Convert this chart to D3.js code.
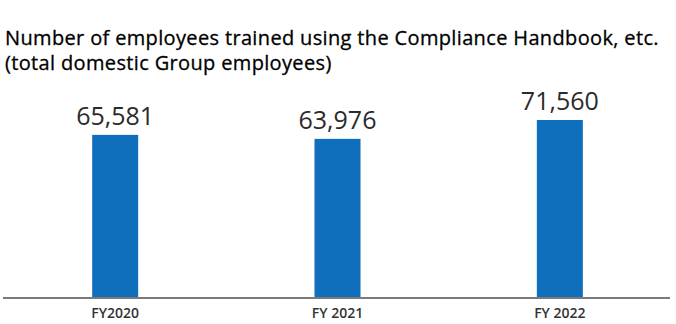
<!DOCTYPE html>
<html>
<head>
<meta charset="utf-8">
<script src="https://cdn.jsdelivr.net/npm/d3@7"></script>
<style>
  body { margin: 0; background: #fff; }
  svg { display: block; }
</style>
</head>
<body>
<svg></svg>
<script>
var categories = ["FY2020", "FY 2021", "FY 2022"]
var values = [65581, 63976, 71560]
var valueLabels = ["65,581", "63,976", "71,560"]
var titleLines = ["Number of employees trained using the Compliance Handbook, etc.",
                  "(total domestic Group employees)"]

var screen = {width: 676, height: 324}
var baseY = 298

var svg = d3.select("svg")
    .attr("width", screen.width)
    .attr("height", screen.height)

var xScale = d3.scaleBand()
    .domain(categories)
    .range([4, 671])

var yScale = d3.scaleLinear()
    .domain([0, 80000])
    .range([baseY, 99])

var barWidth = 46

// title
svg.append("g")
    .selectAll("text")
    .data(titleLines)
    .enter()
    .append("text")
    .attr("x", 5)
    .attr("y", function(d, i) { return 45 + i * 25 })
    .attr("font-family", "Open Sans")
    .attr("font-size", 20)
    .attr("letter-spacing", 0.35)
    .attr("fill", "#000")
    .attr("stroke", "#000")
    .attr("stroke-width", 0.3)
    .text(function(d) { return d })

// bars
svg.append("g")
    .selectAll("rect")
    .data(values)
    .enter()
    .append("rect")
    .attr("x", function(d, i) { return xScale(categories[i]) + xScale.bandwidth() / 2 - barWidth / 2 })
    .attr("y", function(d) { return yScale(d) })
    .attr("width", barWidth)
    .attr("height", function(d) { return baseY - yScale(d) })
    .attr("fill", "#0f6fbd")

// value labels
svg.append("g")
    .selectAll("text")
    .data(values)
    .enter()
    .append("text")
    .attr("x", function(d, i) { return xScale(categories[i]) + xScale.bandwidth() / 2 })
    .attr("y", function(d) { return yScale(d) - 10 })
    .attr("text-anchor", "middle")
    .attr("font-family", "Open Sans")
    .attr("font-size", 25)
    .attr("fill", "#2b2b2b")
    .text(function(d, i) { return valueLabels[i] })

// x axis
var xAxis = d3.axisBottom(xScale).tickSize(0).tickPadding(10)
var axisG = svg.append("g")
    .attr("transform", "translate(0," + baseY + ")")
    .call(xAxis)
axisG.select(".domain")
    .attr("d", "M3,0H670")
    .attr("stroke", "#7a7a7a")
    .attr("stroke-width", 2)
axisG.selectAll("text")
    .attr("font-family", "Open Sans")
    .attr("font-size", 14)
    .attr("font-weight", 600)
    .attr("fill", "#333")
</script>
</body>
</html>
